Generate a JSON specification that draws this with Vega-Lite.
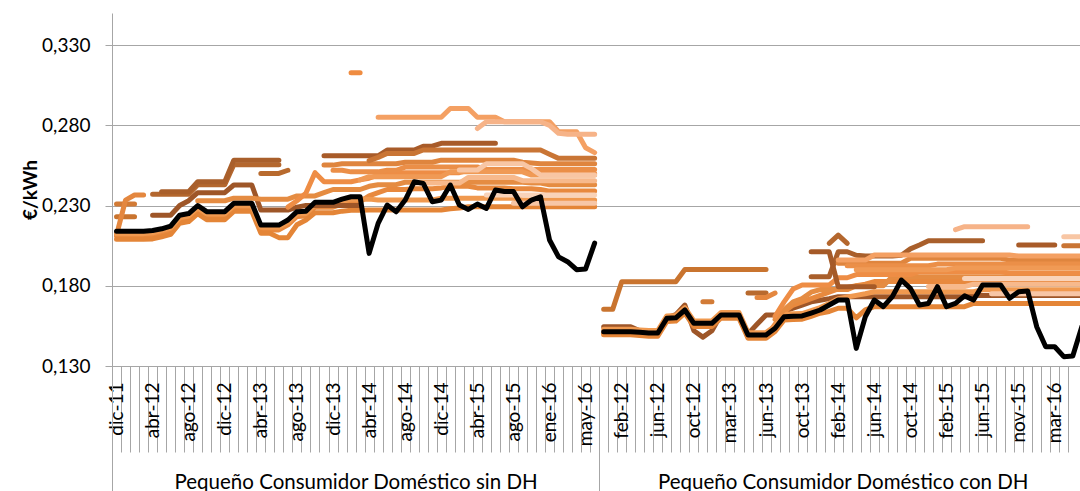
{
"$schema": "https://vega.github.io/schema/vega-lite/v6.json",
"width": 968, "height": 353,
"autosize": {"type": "none"},
"padding": {"left": 112, "top": 13, "right": 0, "bottom": 125},
"background": "white",
"config": {"view": {"stroke": null}, "font": "Lato", "axis": {"labelFont": "Lato", "titleFont": "Lato"}},
"data": {"values": [
{"i":0,"grp":"L","k":0.214,"N":0.211,"Q":0.209,"o":0.2125,"f":0.2115,"e":0.223,"g":0.231},
{"i":1,"grp":"L","k":0.214,"N":0.211,"Q":0.209,"o":0.2125,"f":0.2334,"e":0.223,"g":0.231},
{"i":2,"grp":"L","k":0.214,"N":0.211,"Q":0.209,"o":0.2125,"f":0.2366,"e":0.223,"g":0.231},
{"i":3,"grp":"L","k":0.214,"N":0.211,"Q":0.209,"o":0.2125,"f":0.2366},
{"i":4,"grp":"L","k":0.2145,"N":0.2112,"Q":0.2092,"o":0.213,"b":0.237,"c":0.224},
{"i":5,"grp":"L","k":0.2155,"N":0.2125,"Q":0.2105,"o":0.2145,"a":0.2386,"b":0.237,"c":0.224},
{"i":6,"grp":"L","k":0.2172,"N":0.2142,"Q":0.212,"o":0.216,"a":0.2386,"b":0.237,"c":0.224},
{"i":7,"grp":"L","k":0.224,"N":0.221,"Q":0.219,"o":0.2225,"a":0.2386,"b":0.237,"c":0.23},
{"i":8,"grp":"L","k":0.225,"N":0.222,"Q":0.22,"o":0.2235,"a":0.2386,"b":0.237,"c":0.233},
{"i":9,"grp":"L","k":0.23,"N":0.227,"Q":0.225,"o":0.2285,"a":0.2448,"b":0.243,"c":0.238,"h":0.233},
{"i":10,"grp":"L","k":0.2262,"N":0.2232,"Q":0.2212,"o":0.2248,"a":0.2448,"b":0.243,"c":0.238,"h":0.233},
{"i":11,"grp":"L","k":0.2262,"N":0.2232,"Q":0.2212,"o":0.2248,"a":0.2448,"b":0.243,"c":0.238,"h":0.233},
{"i":12,"grp":"L","k":0.2262,"N":0.2232,"Q":0.2212,"o":0.2248,"a":0.2448,"b":0.243,"c":0.238,"h":0.233},
{"i":13,"grp":"L","k":0.2314,"N":0.2284,"Q":0.2264,"o":0.2298,"a":0.2583,"b":0.2555,"c":0.2428,"h":0.2346},
{"i":14,"grp":"L","k":0.2314,"N":0.2284,"Q":0.2264,"o":0.2298,"a":0.2583,"b":0.2555,"c":0.2428,"h":0.2346},
{"i":15,"grp":"L","k":0.2314,"N":0.2284,"Q":0.2264,"o":0.2298,"a":0.2583,"b":0.2555,"c":0.2428,"h":0.2346},
{"i":16,"grp":"L","k":0.2178,"N":0.2148,"Q":0.2128,"o":0.2165,"a":0.2583,"b":0.2555,"c":0.2272,"h":0.234,"v":0.25},
{"i":17,"grp":"L","k":0.2178,"N":0.2148,"Q":0.2128,"o":0.2165,"a":0.2583,"b":0.2555,"c":0.2272,"h":0.234,"v":0.25},
{"i":18,"grp":"L","k":0.2178,"N":0.2148,"Q":0.21,"o":0.2165,"a":0.2583,"b":0.2555,"c":0.2272,"h":0.234,"v":0.25},
{"i":19,"grp":"L","k":0.221,"N":0.218,"Q":0.21,"o":0.2195,"c":0.2272,"h":0.234,"v":0.252,"d":0.229},
{"i":20,"grp":"L","k":0.2262,"N":0.2232,"Q":0.218,"o":0.2248,"c":0.229,"h":0.236,"d":0.233},
{"i":21,"grp":"L","k":0.2265,"N":0.2235,"Q":0.221,"o":0.225,"c":0.23,"h":0.236,"d":0.2378},
{"i":22,"grp":"L","k":0.232,"N":0.229,"Q":0.2255,"o":0.2305,"c":0.23,"h":0.236,"d":0.2505},
{"i":23,"grp":"L","k":0.232,"N":0.229,"Q":0.2255,"o":0.2305,"c":0.23,"h":0.238,"d":0.2448,"G":0.261,"I":0.2552},
{"i":24,"grp":"L","k":0.232,"N":0.229,"Q":0.2255,"o":0.2305,"c":0.23,"h":0.24,"d":0.2448,"G":0.261,"I":0.2552,"J":0.252},
{"i":25,"grp":"L","k":0.234,"N":0.231,"Q":0.2265,"o":0.2325,"c":0.23,"h":0.24,"d":0.2448,"G":0.261,"I":0.256,"J":0.252},
{"i":26,"grp":"L","k":0.2355,"N":0.2325,"Q":0.227,"o":0.234,"c":0.23,"h":0.24,"d":0.2448,"G":0.261,"I":0.256,"J":0.251,"z":0.3127},
{"i":27,"grp":"L","k":0.2355,"N":0.2325,"Q":0.227,"o":0.234,"c":0.23,"h":0.24,"d":0.246,"G":0.261,"I":0.256,"J":0.251,"K":0.246,"z":0.3127},
{"i":28,"grp":"L","k":0.2002,"N":0.236,"Q":0.2272,"o":0.234,"h":0.242,"d":0.247,"G":0.261,"I":0.256,"J":0.251,"K":0.248,"H":0.258},
{"i":29,"grp":"L","k":0.2189,"N":0.238,"Q":0.2272,"o":0.2335,"h":0.243,"d":0.249,"G":0.261,"I":0.256,"J":0.251,"K":0.248,"H":0.26,"E":0.285},
{"i":30,"grp":"L","k":0.2303,"N":0.24,"Q":0.2272,"o":0.2335,"h":0.243,"d":0.2505,"G":0.2646,"I":0.256,"J":0.252,"K":0.248,"H":0.2625,"E":0.285},
{"i":31,"grp":"L","k":0.2261,"N":0.24,"Q":0.2272,"o":0.2335,"h":0.243,"d":0.2505,"G":0.2646,"I":0.256,"J":0.252,"K":0.248,"H":0.2625,"E":0.285},
{"i":32,"grp":"L","k":0.2334,"N":0.24,"Q":0.2272,"o":0.2335,"h":0.2445,"d":0.2505,"G":0.2646,"I":0.257,"J":0.254,"K":0.248,"H":0.2625,"E":0.285},
{"i":33,"grp":"L","k":0.2448,"N":0.2405,"Q":0.2272,"o":0.2335,"h":0.2445,"d":0.2505,"G":0.2646,"I":0.257,"J":0.254,"K":0.248,"H":0.2625,"E":0.285,"L":0.244},
{"i":34,"grp":"L","k":0.2438,"N":0.2405,"Q":0.2272,"o":0.2335,"h":0.2445,"d":0.2505,"G":0.267,"I":0.257,"J":0.254,"K":0.248,"H":0.2646,"E":0.285,"L":0.244},
{"i":35,"grp":"L","k":0.2324,"N":0.2405,"Q":0.2272,"o":0.2335,"h":0.2445,"d":0.2505,"G":0.267,"I":0.257,"J":0.254,"K":0.248,"H":0.2646,"E":0.285,"L":0.244},
{"i":36,"grp":"L","k":0.2334,"N":0.241,"Q":0.2272,"o":0.2345,"h":0.2445,"d":0.2505,"G":0.2688,"I":0.2583,"J":0.254,"K":0.248,"H":0.2646,"E":0.285,"L":0.244},
{"i":37,"grp":"L","k":0.2428,"N":0.242,"Q":0.228,"o":0.2345,"h":0.2445,"d":0.2505,"G":0.2688,"I":0.2583,"J":0.254,"K":0.251,"H":0.2646,"E":0.2905,"L":0.244},
{"i":38,"grp":"L","k":0.2303,"N":0.242,"Q":0.2285,"o":0.2345,"h":0.2445,"d":0.2505,"G":0.2688,"I":0.2583,"J":0.254,"K":0.251,"H":0.2646,"E":0.2905,"L":0.244,"M":0.2521},
{"i":39,"grp":"L","k":0.2276,"N":0.242,"Q":0.2293,"o":0.2345,"h":0.2445,"d":0.252,"G":0.2688,"I":0.2583,"J":0.254,"K":0.251,"H":0.2646,"E":0.2905,"L":0.2475,"M":0.2521},
{"i":40,"grp":"L","k":0.2309,"N":0.241,"Q":0.2293,"o":0.2345,"h":0.2445,"d":0.252,"G":0.2688,"I":0.2583,"J":0.254,"K":0.251,"H":0.2646,"E":0.285,"L":0.2475,"M":0.2521,"F":0.278},
{"i":41,"grp":"L","k":0.2282,"N":0.241,"Q":0.2293,"o":0.2345,"h":0.2445,"d":0.252,"G":0.2688,"I":0.2583,"J":0.2525,"K":0.251,"H":0.2646,"E":0.285,"L":0.2475,"M":0.256,"F":0.2822,"P":0.2365},
{"i":42,"grp":"L","k":0.2397,"N":0.241,"Q":0.2293,"o":0.2345,"h":0.2445,"d":0.252,"G":0.2688,"I":0.2583,"J":0.2525,"K":0.251,"H":0.2646,"E":0.285,"L":0.2475,"M":0.256,"F":0.2822,"P":0.2365},
{"i":43,"grp":"L","k":0.2387,"N":0.241,"Q":0.2293,"o":0.2345,"h":0.2445,"d":0.252,"I":0.2583,"J":0.2525,"K":0.251,"H":0.2646,"E":0.2822,"L":0.2475,"M":0.256,"F":0.2822,"P":0.2365},
{"i":44,"grp":"L","k":0.2387,"N":0.2405,"Q":0.2293,"o":0.2345,"h":0.2445,"d":0.252,"I":0.2583,"J":0.2525,"K":0.251,"H":0.2646,"E":0.2822,"L":0.2475,"M":0.256,"F":0.2822,"P":0.2365,"R":0.2315},
{"i":45,"grp":"L","k":0.2292,"N":0.2405,"Q":0.2293,"o":0.2335,"h":0.2445,"d":0.252,"I":0.257,"J":0.2525,"K":0.251,"H":0.2646,"E":0.2822,"L":0.2455,"M":0.256,"F":0.2822,"P":0.2365,"R":0.2315},
{"i":46,"grp":"L","k":0.2334,"N":0.2405,"Q":0.2293,"o":0.2335,"h":0.244,"d":0.25,"I":0.2565,"J":0.2525,"K":0.249,"H":0.2646,"E":0.2822,"L":0.2455,"M":0.253,"F":0.2822,"P":0.2365,"R":0.2315},
{"i":47,"grp":"L","k":0.2355,"N":0.24,"Q":0.2293,"o":0.2335,"h":0.244,"d":0.25,"I":0.256,"J":0.2525,"K":0.249,"H":0.2646,"E":0.2822,"L":0.2455,"M":0.249,"F":0.2822,"P":0.2365,"R":0.2315},
{"i":48,"grp":"L","k":0.2085,"N":0.239,"Q":0.2293,"o":0.2335,"h":0.243,"d":0.25,"I":0.256,"J":0.2525,"K":0.249,"H":0.262,"E":0.2822,"L":0.2455,"M":0.249,"F":0.28,"P":0.2365,"R":0.2315},
{"i":49,"grp":"L","k":0.198,"N":0.239,"Q":0.2293,"o":0.2335,"h":0.243,"d":0.25,"I":0.256,"J":0.2525,"K":0.249,"H":0.2594,"E":0.276,"L":0.2455,"M":0.249,"F":0.275,"P":0.2365,"R":0.2315},
{"i":50,"grp":"L","k":0.195,"N":0.239,"Q":0.2293,"o":0.2335,"h":0.243,"d":0.25,"I":0.256,"J":0.2525,"K":0.249,"H":0.2594,"E":0.276,"L":0.2455,"M":0.249,"F":0.2745,"P":0.2365,"R":0.2315},
{"i":51,"grp":"L","k":0.19,"N":0.239,"Q":0.2293,"o":0.2335,"h":0.243,"d":0.25,"I":0.256,"J":0.2525,"K":0.249,"H":0.2594,"E":0.276,"L":0.2455,"M":0.249,"F":0.2745,"P":0.2365,"R":0.2315},
{"i":52,"grp":"L","k":0.1905,"N":0.239,"Q":0.2293,"o":0.2335,"h":0.243,"d":0.25,"I":0.256,"J":0.2525,"K":0.249,"H":0.2594,"E":0.266,"L":0.2455,"M":0.249,"F":0.2745,"P":0.2365,"R":0.2315},
{"i":53,"grp":"L","k":0.2066,"N":0.239,"Q":0.2293,"o":0.2335,"h":0.243,"d":0.25,"I":0.256,"J":0.2525,"K":0.249,"H":0.2594,"E":0.263,"L":0.2455,"M":0.249,"F":0.2745,"P":0.2365,"R":0.2315},
{"i":54,"grp":"R","k":0.1514,"N":0.1504,"Q":0.1495,"o":0.1529,"c":0.1545,"e":0.1653},
{"i":55,"grp":"R","k":0.1514,"N":0.1504,"Q":0.1495,"o":0.1529,"c":0.1545,"e":0.1653},
{"i":56,"grp":"R","k":0.1514,"N":0.1504,"Q":0.1495,"o":0.1529,"c":0.1545,"e":0.1825},
{"i":57,"grp":"R","k":0.1514,"N":0.1504,"Q":0.1495,"o":0.1529,"c":0.1545,"e":0.1825},
{"i":58,"grp":"R","k":0.151,"N":0.15,"Q":0.149,"o":0.1525,"c":0.152,"e":0.1825},
{"i":59,"grp":"R","k":0.1506,"N":0.1496,"Q":0.1486,"o":0.1521,"c":0.1506,"e":0.1825},
{"i":60,"grp":"R","k":0.1506,"N":0.1496,"Q":0.1486,"o":0.1521,"c":0.1506,"e":0.1825},
{"i":61,"grp":"R","k":0.1597,"N":0.1587,"Q":0.1577,"o":0.1612,"c":0.16,"e":0.1825},
{"i":62,"grp":"R","k":0.16,"N":0.159,"Q":0.158,"o":0.1615,"c":0.162,"e":0.1825},
{"i":63,"grp":"R","k":0.1649,"N":0.1639,"Q":0.1629,"o":0.1664,"c":0.168,"e":0.1902},
{"i":64,"grp":"R","k":0.1566,"N":0.1556,"Q":0.1546,"o":0.1581,"c":0.152,"e":0.1902},
{"i":65,"grp":"R","k":0.1566,"N":0.1556,"Q":0.1546,"o":0.1581,"c":0.148,"e":0.1902,"g":0.17},
{"i":66,"grp":"R","k":0.1566,"N":0.1556,"Q":0.1546,"o":0.1581,"c":0.152,"e":0.1902,"g":0.17},
{"i":67,"grp":"R","k":0.1618,"N":0.1608,"Q":0.1598,"o":0.1633,"c":0.162,"e":0.1902},
{"i":68,"grp":"R","k":0.1618,"N":0.1608,"Q":0.1598,"o":0.1633,"c":0.163,"e":0.1902},
{"i":69,"grp":"R","k":0.1618,"N":0.1608,"Q":0.1598,"o":0.1633,"c":0.162,"e":0.1902},
{"i":70,"grp":"R","k":0.1493,"N":0.1483,"Q":0.1473,"o":0.1508,"c":0.15,"e":0.1902,"v":0.1755},
{"i":71,"grp":"R","k":0.1493,"N":0.1483,"Q":0.1473,"o":0.1508,"c":0.156,"e":0.1902,"v":0.1755,"f":0.1727},
{"i":72,"grp":"R","k":0.1493,"N":0.1483,"Q":0.1473,"o":0.1508,"c":0.1618,"e":0.1902,"v":0.1755,"f":0.1727},
{"i":73,"grp":"R","k":0.1535,"N":0.156,"Q":0.1515,"o":0.155,"c":0.1618,"f":0.1755,"d":0.161,"h":0.159},
{"i":74,"grp":"R","k":0.1607,"N":0.164,"Q":0.1587,"o":0.1622,"c":0.164,"d":0.17,"h":0.165},
{"i":75,"grp":"R","k":0.161,"N":0.168,"Q":0.159,"o":0.1625,"c":0.166,"d":0.178,"h":0.17},
{"i":76,"grp":"R","k":0.1612,"N":0.17,"Q":0.1592,"o":0.1627,"c":0.168,"d":0.1805,"h":0.172},
{"i":77,"grp":"R","k":0.163,"N":0.172,"Q":0.161,"o":0.1645,"c":0.17,"d":0.1805,"h":0.176,"a":0.1857,"u":0.2012},
{"i":78,"grp":"R","k":0.1649,"N":0.174,"Q":0.1629,"o":0.1664,"c":0.171,"d":0.1805,"h":0.1776,"a":0.1857,"u":0.2012},
{"i":79,"grp":"R","k":0.168,"N":0.176,"Q":0.164,"o":0.169,"c":0.172,"d":0.1805,"h":0.1776,"a":0.1857,"u":0.2012,"b":0.2064},
{"i":80,"grp":"R","k":0.1711,"N":0.178,"Q":0.166,"o":0.172,"c":0.1732,"d":0.185,"h":0.1776,"a":0.2012,"u":0.1794,"b":0.2116,"E":0.196,"I":0.194},
{"i":81,"grp":"R","k":0.1711,"N":0.179,"Q":0.166,"o":0.173,"c":0.1732,"d":0.185,"h":0.1776,"a":0.2012,"u":0.1794,"b":0.2064,"E":0.196,"I":0.194,"J":0.1925},
{"i":82,"grp":"R","k":0.141,"N":0.18,"Q":0.16,"o":0.174,"c":0.1732,"d":0.187,"h":0.18,"a":0.199,"u":0.1794,"E":0.196,"I":0.194,"J":0.1925,"K":0.19},
{"i":83,"grp":"R","k":0.1607,"N":0.181,"Q":0.165,"o":0.175,"c":0.1732,"d":0.187,"h":0.18,"a":0.1985,"u":0.1794,"E":0.196,"I":0.194,"J":0.1925,"K":0.19},
{"i":84,"grp":"R","k":0.1711,"N":0.1826,"Q":0.167,"o":0.1763,"c":0.1732,"d":0.187,"h":0.18,"a":0.1985,"u":0.1794,"E":0.1992,"I":0.194,"J":0.1925,"K":0.19},
{"i":85,"grp":"R","k":0.167,"N":0.1826,"Q":0.167,"o":0.1763,"c":0.1732,"d":0.187,"h":0.18,"a":0.1985,"E":0.1992,"I":0.194,"J":0.1925,"K":0.19},
{"i":86,"grp":"R","k":0.1732,"N":0.1826,"Q":0.167,"o":0.1763,"c":0.1732,"d":0.187,"h":0.1857,"a":0.1985,"E":0.1992,"I":0.194,"J":0.1925,"K":0.19},
{"i":87,"grp":"R","k":0.1836,"N":0.1826,"Q":0.167,"o":0.1763,"c":0.1732,"d":0.187,"h":0.1857,"a":0.199,"E":0.1992,"I":0.194,"J":0.1925,"K":0.19},
{"i":88,"grp":"R","k":0.1784,"N":0.1826,"Q":0.167,"o":0.1763,"c":0.1732,"d":0.187,"h":0.1857,"a":0.203,"E":0.1992,"I":0.1971,"J":0.1925,"K":0.19},
{"i":89,"grp":"R","k":0.168,"N":0.1826,"Q":0.167,"o":0.1763,"c":0.1732,"d":0.1888,"h":0.1857,"a":0.2054,"E":0.1992,"I":0.1971,"J":0.1925,"K":0.19},
{"i":90,"grp":"R","k":0.169,"N":0.1826,"Q":0.167,"o":0.1763,"c":0.1732,"d":0.1888,"h":0.1857,"a":0.208,"E":0.1992,"I":0.1971,"J":0.1925,"K":0.19,"L":0.1795},
{"i":91,"grp":"R","k":0.1794,"N":0.1826,"Q":0.167,"o":0.1763,"c":0.1732,"d":0.1888,"h":0.1857,"a":0.208,"E":0.1992,"I":0.1971,"J":0.1935,"K":0.19,"L":0.1795},
{"i":92,"grp":"R","k":0.167,"N":0.1826,"Q":0.167,"o":0.1763,"c":0.1732,"d":0.1888,"h":0.1857,"a":0.208,"E":0.1992,"I":0.1971,"J":0.1935,"K":0.19,"L":0.1795},
{"i":93,"grp":"R","k":0.169,"N":0.1826,"Q":0.167,"o":0.1763,"c":0.1732,"d":0.1888,"h":0.1857,"a":0.208,"E":0.1992,"I":0.1971,"J":0.1935,"K":0.191,"L":0.1795,"F":0.215},
{"i":94,"grp":"R","k":0.1737,"N":0.1826,"Q":0.167,"o":0.1763,"c":0.1732,"d":0.1888,"h":0.1857,"a":0.208,"E":0.1992,"I":0.1971,"J":0.1935,"K":0.191,"L":0.1795,"F":0.2168,"P":0.1845},
{"i":95,"grp":"R","k":0.1711,"N":0.1826,"Q":0.169,"o":0.1763,"c":0.174,"d":0.1888,"h":0.1857,"a":0.208,"E":0.1992,"I":0.1971,"J":0.1935,"K":0.191,"L":0.181,"F":0.2168,"P":0.1845},
{"i":96,"grp":"R","k":0.1805,"N":0.1826,"Q":0.169,"o":0.1775,"c":0.174,"d":0.1888,"h":0.1857,"a":0.208,"E":0.1992,"I":0.1971,"J":0.1935,"K":0.191,"L":0.181,"F":0.2168,"P":0.1845},
{"i":97,"grp":"R","k":0.1805,"N":0.1826,"Q":0.169,"o":0.1775,"c":0.174,"d":0.1888,"h":0.1857,"E":0.1992,"I":0.1971,"J":0.1935,"K":0.191,"L":0.181,"F":0.2168,"P":0.1845,"R":0.175},
{"i":98,"grp":"R","k":0.1805,"N":0.1826,"Q":0.169,"o":0.1775,"c":0.174,"d":0.1888,"h":0.1857,"E":0.1992,"I":0.1971,"J":0.1935,"K":0.191,"L":0.181,"F":0.2168,"P":0.1845,"R":0.175},
{"i":99,"grp":"R","k":0.1722,"N":0.1826,"Q":0.169,"o":0.1775,"c":0.174,"d":0.188,"h":0.1857,"E":0.1992,"I":0.196,"J":0.1935,"K":0.191,"L":0.181,"F":0.2168,"P":0.1845,"R":0.175},
{"i":100,"grp":"R","k":0.1763,"N":0.1826,"Q":0.169,"o":0.1775,"c":0.174,"d":0.188,"h":0.1857,"E":0.1985,"I":0.196,"J":0.1935,"K":0.191,"L":0.181,"F":0.2168,"P":0.1845,"R":0.175,"G":0.2054},
{"i":101,"grp":"R","k":0.1768,"N":0.1826,"Q":0.169,"o":0.1775,"c":0.174,"d":0.188,"h":0.1857,"E":0.1985,"I":0.196,"J":0.1935,"K":0.191,"L":0.181,"F":0.2168,"P":0.1845,"R":0.175,"G":0.2054},
{"i":102,"grp":"R","k":0.1545,"N":0.1826,"Q":0.169,"o":0.1775,"c":0.174,"d":0.188,"h":0.1857,"E":0.1985,"I":0.196,"J":0.1935,"K":0.191,"L":0.181,"P":0.1845,"R":0.175,"G":0.2054},
{"i":103,"grp":"R","k":0.142,"N":0.1826,"Q":0.169,"o":0.1775,"c":0.174,"d":0.188,"h":0.1857,"E":0.1985,"I":0.196,"J":0.1935,"K":0.191,"L":0.181,"P":0.1845,"R":0.175,"G":0.2054},
{"i":104,"grp":"R","k":0.142,"N":0.1826,"Q":0.169,"o":0.1775,"c":0.174,"d":0.188,"h":0.1857,"E":0.1985,"I":0.196,"J":0.1935,"K":0.191,"L":0.181,"P":0.1845,"R":0.175,"G":0.2054},
{"i":105,"grp":"R","k":0.1358,"N":0.1826,"Q":0.169,"o":0.1775,"c":0.174,"d":0.188,"h":0.1857,"E":0.1985,"I":0.196,"J":0.1935,"K":0.191,"L":0.181,"P":0.1845,"R":0.175,"M":0.2106,"H":0.205},
{"i":106,"grp":"R","k":0.1362,"N":0.1826,"Q":0.169,"o":0.1775,"c":0.174,"d":0.188,"h":0.1857,"E":0.1985,"I":0.196,"J":0.1935,"K":0.191,"L":0.181,"P":0.1845,"R":0.175,"M":0.2106,"H":0.205},
{"i":107,"grp":"R","k":0.1545,"N":0.1826,"Q":0.169,"o":0.1775,"c":0.174,"d":0.188,"h":0.1857,"E":0.1985,"I":0.196,"J":0.1935,"K":0.191,"L":0.181,"P":0.1845,"R":0.175,"M":0.2106,"H":0.205}
]},
"layer": [
{
"transform": [
{"fold": ["c","a","b","G","H","v","u","e","g","f","N","Q","h","d","I","J","K","z","o","E","F","L","R","M","P"], "as": ["s", "val"]},
{"filter": "isValid(datum.val)"}
],
"mark": {"type": "line", "strokeWidth": 5, "strokeCap": "round", "strokeJoin": "round", "clip": true},
"encoding": {
"x": {"field": "i", "type": "quantitative",
"scale": {"domain": [-0.5, 106.8], "nice": false, "zero": false},
"axis": {
"orient": "bottom",
"values": [0,1,2,3,4,5,6,7,8,9,10,11,12,13,14,15,16,17,18,19,20,21,22,23,24,25,26,27,28,29,30,31,32,33,34,35,36,37,38,39,40,41,42,43,44,45,46,47,48,49,50,51,52,53,54,55,56,57,58,59,60,61,62,63,64,65,66,67,68,69,70,71,72,73,74,75,76,77,78,79,80,81,82,83,84,85,86,87,88,89,90,91,92,93,94,95,96,97,98,99,100,101,102,103,104,105,106,107],
"labelExpr": "datum.value % 4 === 0 ? ['dic-11','abr-12','ago-12','dic-12','abr-13','ago-13','dic-13','abr-14','ago-14','dic-14','abr-15','ago-15','ene-16','may-16','feb-12','jun-12','oct-12','mar-13','jun-13','oct-13','feb-14','jun-14','oct-14','feb-15','jun-15','nov-15','mar-16'][datum.value / 4] : ''",
"tickOffset": -4.51, "labelOffset": 4.51,
"tickSize": 86, "tickColor": "#a6a6a6", "tickWidth": 1,
"domainColor": "#a6a6a6", "domainWidth": 1,
"labelAngle": -90, "labelAlign": "right", "labelBaseline": "middle",
"labelPadding": -70, "labelFontSize": 19, "labelColor": "#000000",
"labelOverlap": false, "labelFlush": false, "labelBound": false,
"grid": false, "title": null
}},
"y": {"field": "val", "type": "quantitative",
"scale": {"domain": [0.13, 0.35], "nice": false, "zero": false},
"axis": {
"values": [0.13, 0.18, 0.23, 0.28, 0.33],
"labelExpr": "replace(format(datum.value, '.3f'), '.', ',')",
"grid": true, "gridColor": "#a6a6a6", "gridWidth": 1,
"tickSize": 7, "tickColor": "#a6a6a6", "domainColor": "#a6a6a6",
"labelPadding": 15, "labelFontSize": 19, "labelColor": "#000000",
"title": "€/kWh", "titleFontSize": 19, "titleFontWeight": "bold", "titleColor": "#000000", "titlePadding": 1
}},
"color": {"field": "s", "type": "nominal",
"scale": {
"domain": ["c","a","b","G","H","v","u","e","g","f","N","Q","h","d","I","J","K","z","o","E","F","L","R","M","P"],
"range": ["#9e5628","#a95f2b","#b4672e","#a85b29","#c97535","#b86a2e","#a55a28","#c9742f","#d27b36","#e4873f","#e8893e","#e48537","#e58c42","#ee8d45","#df853e","#eb8f48","#f09a55","#ef8c41","#f0994f","#f4a063","#f6b388","#f7b98c","#f7c6a6","#f8c6a4","#f9d3b9"]},
"legend": null},
"detail": {"field": "grp"}
}
},
{
"mark": {"type": "line", "color": "#000000", "strokeWidth": 5, "strokeCap": "round", "strokeJoin": "round", "clip": true},
"encoding": {
"x": {"field": "i", "type": "quantitative",
"scale": {"domain": [-0.5, 106.8], "nice": false, "zero": false},
"axis": {
"orient": "bottom",
"values": [-0.5, 26.5, 53.5, 80.5],
"labelExpr": "datum.value === 26.5 ? 'Pequeño Consumidor Doméstico sin DH' : (datum.value === 80.5 ? 'Pequeño Consumidor Doméstico con DH' : '')",
"tickSize": 125, "tickColor": "#a6a6a6", "tickWidth": 1,
"tickOpacity": {"condition": {"test": "datum.value === 26.5 || datum.value === 80.5", "value": 0}, "value": 1},
"domain": false,
"labelAngle": 0, "labelAlign": "center", "labelBaseline": "alphabetic",
"labelPadding": -3, "labelFontSize": 20.5, "labelColor": "#000000", "labelLimit": 800,
"labelOverlap": false, "labelFlush": false, "labelBound": false,
"grid": false, "title": null
}},
"y": {"field": "k", "type": "quantitative",
"scale": {"domain": [0.13, 0.35], "nice": false, "zero": false},
"axis": {"title": "€/kWh"}},
"detail": {"field": "grp"}
}
}
],
"resolve": {"axis": {"x": "independent"}}
}
